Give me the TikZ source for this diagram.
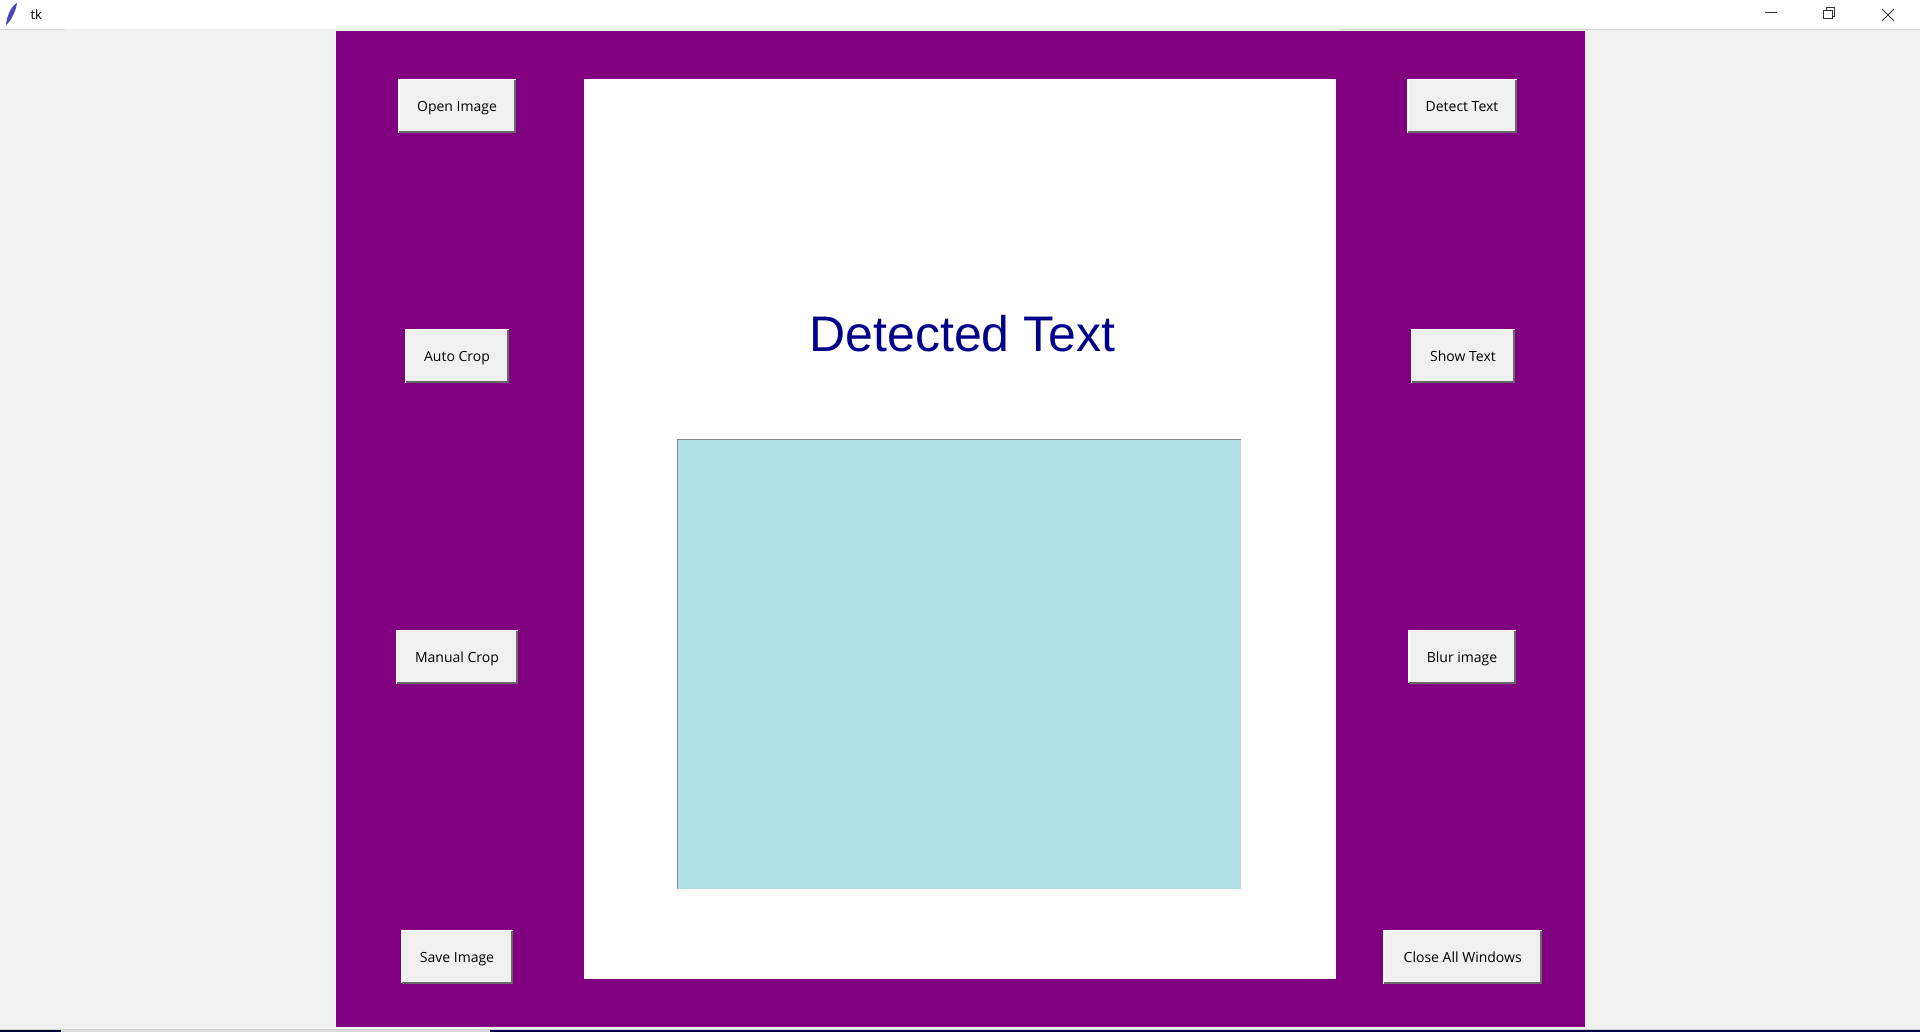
\documentclass[tikz,border=0pt]{standalone}
\usepackage{fontspec}
\setmainfont{Open Sans}
\newfontfamily\arialfont{Liberation Sans}
\definecolor{tkpurple}{HTML}{800080}
\definecolor{tkgray}{HTML}{F0F0F0}
\definecolor{tkblue}{HTML}{B0E0E6}
\definecolor{tknavy}{HTML}{00008B}
\definecolor{tkshade}{HTML}{696969}

\begin{document}
\begin{tikzpicture}[x=1pt,y=-1pt,
  btn/.style={fill=tkgray,inner sep=0pt,minimum height=54pt,
    text height=14.4pt,text depth=3pt,font=\fontsize{14}{16}\selectfont},
  winctl/.style={line width=1pt,black!80}]
  \useasboundingbox (0,0) rectangle (1920,1032);
  % window background and title bar
  \fill[tkgray] (0,0) rectangle (1920,1032);
  \fill[white] (0,0) rectangle (1920,29);
  \draw[gray!35] (0,29.5) -- (65,29.5) (1340,29.5) -- (1920,29.5);
  \fill[blue!45!gray] (6,25) .. controls (7,13) and (13,5) .. (17,3)
    .. controls (16,10) and (12,20) .. (6,25);
  \node[anchor=base west,font=\fontsize{13}{15}\selectfont] (tk) at (27,19.5) {tk};
  \draw[winctl] (1765,13) -- (1777,13);
  \draw[winctl] (1823.5,19) rectangle (1832,10.5);
  \draw[winctl] (1826,10.5) -- (1826,8) -- (1834.5,8) -- (1834.5,16.5) -- (1832,16.5);
  \draw[winctl] (1882,9) -- (1894,21) (1882,21) -- (1894,9);
  % frame, panel and canvas
  \fill[tkpurple] (335.5,31.5) rectangle (1584.5,1027.3);
  \fill[white] (583.5,79) rectangle (1336.3,979.3);
  \node[font=\arialfont\fontsize{50}{52}\selectfont,text=tknavy,anchor=base,inner sep=0pt]
    (title) at (962.4,351.7) {Detected Text};
  \fill[tkblue] (677,439) rectangle (1241,888.7);
  \draw[tkshade!80] (677.5,888.7) -- (677.5,439.5) -- (1241,439.5);
  % buttons
  \node[btn,minimum width=117.5pt] (open)   at (457,106) {Open Image};
  \node[btn,minimum width=104pt]   (auto)   at (457,356) {Auto Crop};
  \node[btn,minimum width=122pt]   (manual) at (457,657) {Manual Crop};
  \node[btn,minimum width=111pt]   (save)   at (457,957) {Save Image};
  \node[btn,minimum width=109.5pt] (detect) at (1462,106) {Detect Text};
  \node[btn,minimum width=104pt]   (show)   at (1463,356) {Show Text};
  \node[btn,minimum width=107pt]   (blur)   at (1462,657) {Blur image};
  \node[btn,minimum width=158.7pt] (close)  at (1462.7,957) {Close All Windows};
  \foreach \b in {open,auto,manual,save,detect,show,blur,close} {
    \draw[white,line width=1.5pt] ([shift={(0.75,-0.75)}]\b.south west) |- ([shift={(-0.75,0.75)}]\b.north east);
    \draw[tkshade,line width=2pt] ([shift={(1,-1)}]\b.south west) -| ([shift={(-1,1)}]\b.north east);
  }
  % taskbar edge
  \draw[gray!35] (0,1029) -- (1920,1029);
  \fill[black!80!blue] (0,1030) rectangle (61,1032);
  \fill[gray!30] (61,1030) rectangle (490,1032);
  \fill[black!70!blue] (490,1030) rectangle (1920,1032);
\end{tikzpicture}
\end{document}
